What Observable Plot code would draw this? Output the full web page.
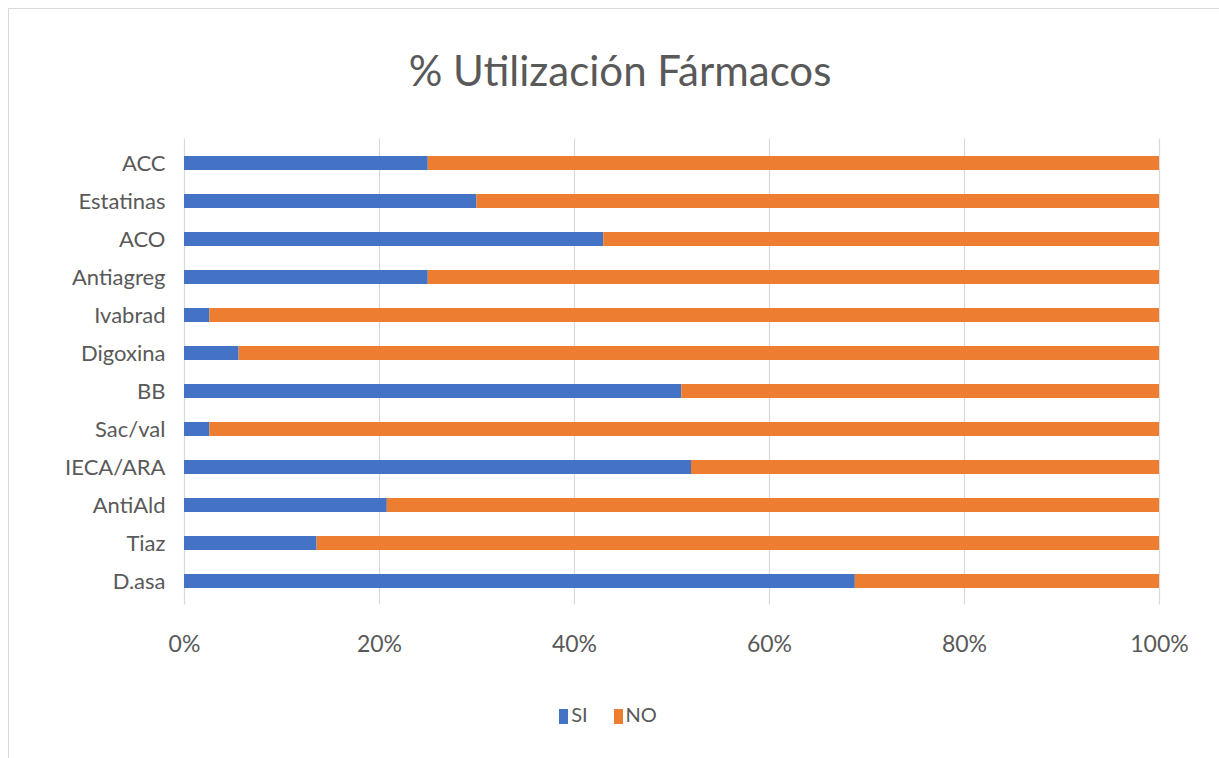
<!DOCTYPE html>
<html><head><meta charset="utf-8">
<script src="https://cdn.jsdelivr.net/npm/d3@7"></script>
<script src="https://cdn.jsdelivr.net/npm/@observablehq/plot@0.6"></script>
<style>
html,body{margin:0;padding:0;background:#fff;overflow:hidden;width:1219px;height:758px;}
#frame{position:absolute;left:8px;top:8px;width:1400px;height:1000px;border:1.5px solid #d9d9d9;box-sizing:border-box;}
#title{position:absolute;left:0;width:1240px;top:45px;text-align:center;font-family:Lato,sans-serif;font-size:42px;color:#595959;}
#chart{position:absolute;left:0;top:125px;}
#legend{position:absolute;left:0;width:1216px;top:702px;text-align:center;font-family:Lato,sans-serif;font-size:20px;color:#595959;}
#legend span.sw{display:inline-block;width:9px;height:15px;margin-right:3px;vertical-align:-2px;}
#legend span.item{margin:0 13px;}
</style></head>
<body>
<div id="frame"></div>
<div id="title">% Utilización Fármacos</div>
<div id="chart"></div>
<div id="legend"></div>
<script>
const categories = ["ACC","Estatinas","ACO","Antiagreg","Ivabrad","Digoxina","BB","Sac/val","IECA/ARA","AntiAld","Tiaz","D.asa"];
const siValues = [25,30,43,25,2.6,5.6,51,2.6,52,20.8,13.6,68.8];
const noValues = siValues.map(v => 100 - v);
const seriesNames = ["SI","NO"];
const seriesColors = ["#4472C4","#ED7D31"];
const xTicks = [0,20,40,60,80,100];

const data = [];
categories.forEach((c,i) => {
  data.push({cat:c, series:"SI", value:siValues[i]});
  data.push({cat:c, series:"NO", value:noValues[i]});
});

const chart = Plot.plot({
  width: 1219,
  height: 545,
  marginLeft: 184,
  marginRight: 60,
  marginTop: 13.6,
  marginBottom: 65.6,
  style: {fontFamily: "Lato, sans-serif", fontSize: "22px", color: "#595959", background: "transparent"},
  x: {domain: [0,100], axis: null},
  y: {domain: categories, paddingInner: 0.64, paddingOuter: 0.32, axis: null},
  color: {domain: seriesNames, range: seriesColors},
  marks: [
    Plot.gridX(xTicks, {stroke: "#d9d9d9", strokeOpacity: 1, strokeWidth: 1.2}),
    Plot.barX(data, Plot.stackX({x: "value", y: "cat", fill: "series", order: seriesNames})),
    Plot.axisX({ticks: xTicks, tickFormat: d => d + "%", tickSize: 0, tickPadding: 31, fontSize: 23, label: null}),
    Plot.axisY({tickSize: 0, tickPadding: 19, fontSize: 22, label: null})
  ]
});
document.getElementById("chart").appendChild(chart);

const legend = document.getElementById("legend");
seriesNames.forEach((s,i) => {
  const item = document.createElement("span");
  item.className = "item";
  const sw = document.createElement("span");
  sw.className = "sw";
  sw.style.background = seriesColors[i];
  item.appendChild(sw);
  item.appendChild(document.createTextNode(s));
  legend.appendChild(item);
});
</script>
</body></html>
